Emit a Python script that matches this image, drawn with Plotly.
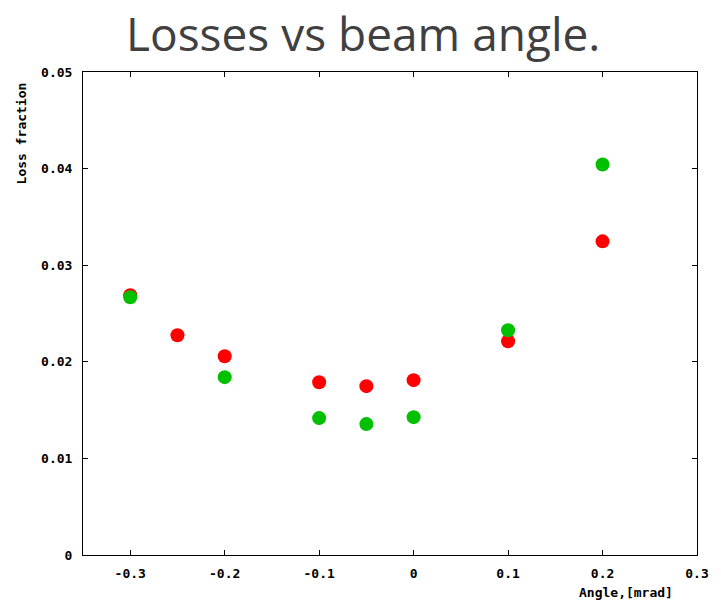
import plotly.graph_objects as go

# Beam angle scan: loss fraction for two configurations
angle_red = [-0.3, -0.25, -0.2, -0.1, -0.05, 0.0, 0.1, 0.2]
loss_red = [0.0269, 0.02275, 0.02058, 0.01789, 0.01748, 0.0181, 0.02213, 0.03247]

angle_green = [-0.3, -0.2, -0.1, -0.05, 0.0, 0.1, 0.2]
loss_green = [0.02668, 0.01841, 0.01417, 0.01355, 0.01427, 0.02327, 0.04043]

x_ticks = [-0.3, -0.2, -0.1, 0.0, 0.1, 0.2, 0.3]
x_tick_text = ["-0.3", "-0.2", "-0.1", "0", "0.1", "0.2", "0.3"]
y_ticks = [0, 0.01, 0.02, 0.03, 0.04, 0.05]
y_tick_text = ["0", "0.01", "0.02", "0.03", "0.04", "0.05"]

tick_font = dict(family="DejaVu Sans Mono", size=13, color="#000000", weight="bold")

fig = go.Figure()
fig.add_trace(go.Scatter(
    x=angle_red, y=loss_red, mode="markers",
    marker=dict(symbol="circle", size=14, color="#ff0000", line=dict(width=0)),
    showlegend=False,
))
fig.add_trace(go.Scatter(
    x=angle_green, y=loss_green, mode="markers",
    marker=dict(symbol="circle", size=14, color="#00c000", line=dict(width=0)),
    showlegend=False,
))

axis_common = dict(
    showgrid=False, zeroline=False, showline=True, linecolor="#000000",
    linewidth=1, mirror="ticks", ticks="inside", ticklen=5, tickwidth=1,
    tickcolor="#000000", tickfont=tick_font,
)
fig.update_xaxes(range=[-0.35, 0.3], tickvals=x_ticks, ticktext=x_tick_text,
                 ticklabelstandoff=6, **axis_common)
fig.update_yaxes(range=[0, 0.05], tickvals=y_ticks, ticktext=y_tick_text,
                 ticklabelstandoff=7, **axis_common)

W, H = 721, 600
pl, pr, pt, pb = 83, 20, 72, 45
pw, ph = W - pl - pr, H - pt - pb

fig.update_layout(
    width=W, height=H,
    margin=dict(l=pl, r=pr, t=pt, b=pb),
    paper_bgcolor="#ffffff", plot_bgcolor="#ffffff",
)

# Title and axis labels placed in pixel coordinates via paper fractions
def px_x(x):
    return (x - pl) / pw

def px_y(y):
    return (H - pb - y) / ph

fig.add_annotation(text="Losses vs beam angle.", x=px_x(365), y=px_y(33), xref="paper", yref="paper",
                   showarrow=False, font=dict(family="Open Sans", size=46, color="#404040"),
                   xanchor="center", yanchor="middle")
fig.add_annotation(text="Loss fraction", x=px_x(21), y=px_y(133), xref="paper", yref="paper",
                   showarrow=False, textangle=-90, font=tick_font,
                   xanchor="center", yanchor="middle")
fig.add_annotation(text="Angle,[mrad]", x=px_x(630), y=px_y(592), xref="paper", yref="paper",
                   showarrow=False, font=tick_font, xanchor="center", yanchor="middle")

fig.write_html("out.html")
